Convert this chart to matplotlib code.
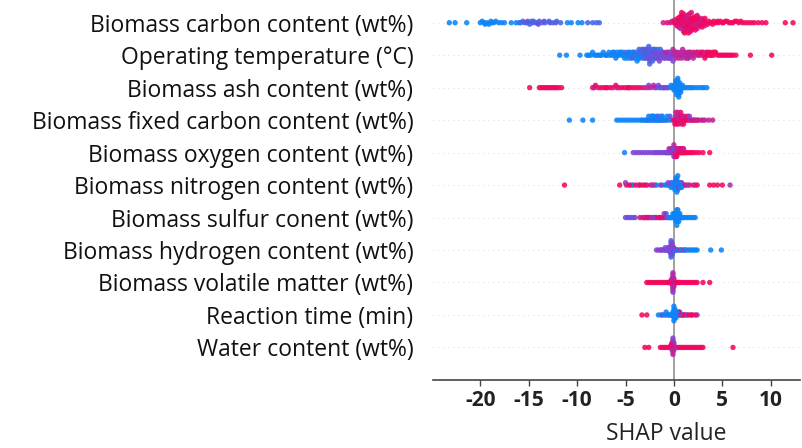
import numpy as np
import matplotlib.pyplot as plt
from matplotlib.colors import LinearSegmentedColormap

# features, top to bottom (ranked by mean |SHAP|)
features = [
    "Biomass carbon content (wt%)",
    "Operating temperature (\u00b0C)",
    "Biomass ash content (wt%)",
    "Biomass fixed carbon content (wt%)",
    "Biomass oxygen content (wt%)",
    "Biomass nitrogen content (wt%)",
    "Biomass sulfur conent (wt%)",
    "Biomass hydrogen content (wt%)",
    "Biomass volatile matter (wt%)",
    "Reaction time (min)",
    "Water content (wt%)",
]

# shap values grouped by (normalised) feature value level
carbon_levels = [0.05, 0.25, 0.4, 0.75, 0.85, 0.95]
carbon_shap = [
    [-23.2, -22.6, -21.4, -20.0, -19.8, -19.6, -19.5, -19.3, -19.1, -18.9, -18.8, -18.6, -18.4,
     -18.1, -17.8, -17.5, -16.8, -16.3, -16.0, -11.0, -10.6, -9.9, -9.5],
    [-15.8, -15.6, -15.4, -15.2, -14.9, -14.7, -14.5, -14.3, -14.1, -13.9, -13.6, -13.3, -12.9,
     -12.5, -12.1, -11.7, -8.9, -8.4, -8.0, -7.7],
    [-15.1, -14.6, -14.0, -13.4, -12.8, -12.2],
    [-1.1, -0.4, 0.1, 0.3, 0.5, 0.6, 0.7, 0.8, 0.9, 1.0, 1.0, 1.1, 1.2, 1.3, 1.4, 1.5, 1.6, 1.7,
     1.8, 1.9, 2.0, 2.2, 2.4, 2.6],
    [1.0, 1.1, 1.2, 1.4, 1.5, 1.6, 1.8, 1.9, 2.0, 2.2, 2.3, 2.4, 2.6, 2.7, 2.8, 3.0, 3.1, 3.2],
    [-0.7, -0.2, 0.0, 0.2, 0.3, 0.4, 0.4, 0.5, 0.5, 0.6, 0.6, 0.7, 0.7, 0.8, 0.8, 0.9, 0.9, 1.0,
     1.0, 1.1, 1.1, 1.2, 1.2, 1.3, 1.3, 1.4, 1.4, 1.5, 1.5, 1.6, 1.6, 1.7, 1.7, 1.8, 1.8, 1.9,
     2.0, 2.0, 2.1, 2.1, 2.2, 2.3, 2.3, 2.4, 2.5, 2.5, 2.7, 2.8, 2.9, 3.0, 3.1, 3.2, 3.3, 3.5,
     3.6, 3.8, 4.0, 4.1, 4.3, 4.5, 4.6, 4.8, 5.0, 5.1, 5.3, 5.5, 5.7, 5.9, 6.1, 6.3, 6.5, 6.7,
     6.9, 7.1, 7.4, 7.7, 8.0, 8.3, 8.7, 9.1, 9.5, 11.5, 12.3],
]

temp_levels = [0.05, 0.25, 0.45, 0.7, 0.95]
temp_shap = [
    [-11.8, -11.1, -9.7, -9.0, -8.8, -8.6, -8.4, -8.2, -8.0, -7.8, -7.6, -7.5, -7.3, -7.1, -7.0,
     -6.8, -6.7, -6.5, -6.4, -6.3, -6.1, -6.0, -5.9, -5.8, -5.6, -5.5, -5.4, -5.3, -5.2, -5.1,
     -5.0, -4.9, -4.8, -4.7, -4.6, -4.5, -4.4, -4.3, -4.2, -4.1, -4.0, -3.9, -3.8, -3.7, -3.6,
     -3.5],
    [-6.2, -5.7, -5.0, -4.6, -4.3, -4.0, -3.8, -3.6, -3.4, -3.3, -3.2, -3.1, -3.0, -2.9, -2.8,
     -2.7, -2.6, -2.5, -2.4, -2.3, -2.2, -2.1, -2.0, -1.9, -1.8, -1.7, -1.6, -1.5, -1.4, -3.4,
     -3.2, -3.0, -2.8, -2.6, -2.4, -2.2, -2.0],
    [-3.3, -3.1, -2.9, -2.7, -2.5, -2.3, -2.1, -1.9, -1.7, -1.5, -1.3, -1.2, -1.1, -1.0, -0.9,
     -0.8, -0.7, -0.6, -0.5, -0.4, -0.3, -0.2, -0.1, -2.6, -2.2, -1.8, -1.4, -1.0, -0.6],
    [-1.2, -0.8, -0.5, -0.3, -0.1, 0.0, 0.1, 0.2, 0.3, 0.4, 0.5, 0.6, 0.7, 0.8, 0.9, 1.0, 1.1,
     1.2, 1.3, 1.4, 1.5, 1.6, 1.7, 1.8, 1.9, 2.0, 2.2, 2.4, 2.6, 2.8, 3.0, 0.2, 0.5, 0.8, 1.1,
     1.4],
    [1.6, 2.0, 2.3, 2.5, 2.7, 2.9, 3.1, 3.2, 3.3, 3.4, 3.5, 3.6, 3.7, 3.8, 3.9, 4.0, 4.1, 4.2,
     4.3, 4.5, 4.7, 4.9, 5.1, 5.3, 5.5, 5.7, 5.9, 6.1, 6.4, 7.9, 10.1],
]

ash_levels = [0.95, 0.75, 0.45, 0.05]
ash_shap = [
    [-14.9, -13.9, -13.7, -13.5, -13.3, -13.1, -12.9, -12.7, -12.5, -12.3, -12.1, -11.9, -11.6,
     -8.4, -8.1, -7.8, -7.5, -7.2, -6.9, -6.6, -6.3, -6.0, -5.7, -5.4, -5.1, -4.8, -4.5, -4.2,
     -3.9, -3.6],
    [-8.2, -7.0, -5.9, -4.7, -3.3, -3.0, -2.7, -2.4, -2.1, -1.8],
    [-2.6, -2.0, -1.6, -1.3, -1.0, -0.8],
    [-1.5, -1.1, -0.7, -0.5, -0.3, -0.2, -0.1, 0.0, 0.0, 0.1, 0.1, 0.2, 0.2, 0.2, 0.3, 0.3, 0.3,
     0.3, 0.4, 0.4, 0.4, 0.4, 0.4, 0.5, 0.5, 0.5, 0.5, 0.6, 0.6, 0.6, 0.7, 0.7, 0.8, 0.9, 1.0,
     1.2, 1.4, 1.6, 1.8, 2.0, 2.3, 2.6, 2.9, 3.1, 3.4],
]

fixed_levels = [0.05, 0.3, 0.95, 0.75, 0.55]
fixed_shap = [
    [-10.8, -9.4, -8.4, -5.9, -5.6, -5.3, -5.0, -4.7, -4.4, -4.1, -3.8, -3.5, -3.3, -3.1, -2.9,
     -2.7, -2.6, -2.5, -2.4, -2.3, -2.2, -2.1, -2.0, -1.9, -1.8, -1.7, -1.6, -1.5, -1.4, -1.3,
     -1.2, -1.1, -0.9, -0.7, -0.5],
    [-2.8, -2.2, -1.6, -1.2, -0.8, -0.4, -0.2],
    [0.0, 0.1, 0.2, 0.3, 0.4, 0.5, 0.6, 0.6, 0.7, 0.8, 0.9, 1.0, 1.1, 1.2, 1.4, 1.7, 2.0, 2.4],
    [0.1, 0.2, 0.3, 0.4, 0.5, 0.7, 0.9, 1.1, 1.3, 1.5, 1.8, 2.1, 2.5, 2.8, 3.2, 3.6, 4.0],
    [0.3, 0.8, 1.6, 2.2, 3.0],
]

oxygen_levels = [0.05, 0.45, 0.75, 0.95]
oxygen_shap = [
    [-5.1],
    [-4.2, -3.9, -3.6, -3.3, -3.0, -2.7, -2.4, -2.1, -1.9, -1.7, -1.5, -1.3, -1.1, -0.9, -0.7,
     -0.6, -0.5, -0.4, -0.3, -0.2, -0.1, 0.0],
    [-0.8, -0.5, -0.3, -0.2, -0.1, 0.0, 0.0, 0.1, 0.1, 0.2, 0.2, 0.3, 0.3, 0.4, 0.5, 0.6, 0.7,
     0.8, 0.9, 1.0],
    [0.0, 0.1, 0.2, 0.3, 0.4, 0.5, 0.6, 0.7, 0.8, 0.9, 1.0, 1.1, 1.2, 1.4, 1.6, 1.8, 2.0, 2.3,
     2.6, 3.0, 3.7],
]

nitrogen_levels = [0.95, 0.6, 0.05, 0.45]
nitrogen_shap = [
    [-11.3, -5.6, -4.9, -4.6, -4.2, -3.9, -3.5, -3.2, -2.8, -2.4, -2.0, 1.2, 1.6, 2.0, 2.4, 3.7,
     4.1, 4.5, 5.0],
    [-5.0, -3.6, -2.2, -1.4, 0.8, 1.4, 2.2, 5.8],
    [-4.4, -3.0, -1.8, -1.2, -0.9, -0.7, -0.5, -0.4, -0.3, -0.2, -0.1, 0.0, 0.0, 0.1, 0.1, 0.2,
     0.2, 0.2, 0.3, 0.3, 0.3, 0.3, 0.4, 0.4, 0.4, 0.5, 0.5, 0.6, 0.7, 0.8, 1.0],
    [-0.6, -0.3, 0.0, 0.2, 0.3, 0.5, 0.7, 0.9],
]

sulfur_levels = [0.4, 0.9, 0.6, 0.05]
sulfur_shap = [
    [-5.0, -4.8, -4.6, -4.4, -4.2, -4.0, -2.2, -1.6],
    [-3.5, -3.2, -3.0, -2.8, -2.6, -2.4, -2.0, -1.8, -1.5, -1.3, -1.1],
    [-3.1, -2.7, -2.3, -1.9, -1.4, -1.0, -0.8],
    [-1.0, -0.8, -0.6, -0.5, -0.4, -0.3, -0.2, -0.1, -0.1, 0.0, 0.0, 0.1, 0.1, 0.2, 0.2, 0.2,
     0.3, 0.3, 0.3, 0.3, 0.3, 0.4, 0.4, 0.4, 0.4, 0.5, 0.5, 0.5, 0.6, 0.6, 0.7, 0.8, 0.9, 1.0,
     1.2, 1.4, 1.6, 1.8, 2.0, 2.2],
]

hydrogen_levels = [0.5, 0.3, 0.05, 0.75]
hydrogen_shap = [
    [-1.8, -1.6, -1.4, -1.2, -1.0, -0.9, -0.8, -0.7, -0.6, -0.5, -0.4, -0.4, -0.3, -0.3, -0.3,
     -0.3, -0.2, -0.2, -0.2, -0.1, -0.1, 0.0],
    [-1.3, -0.9, -0.6, -0.5, -0.4, -0.3, -0.3, -0.3, -0.2, -0.2, -0.1, 0.0, 0.1],
    [-0.3, -0.2, 0.2, 0.4, 0.6, 0.8, 1.0, 1.2, 1.4, 1.6, 1.8, 2.0, 2.2, 2.4, 3.8, 4.9],
    [0.3, 0.7, 1.1],
]

volatile_levels = [0.95, 0.7, 0.5]
volatile_shap = [
    [-2.8, -2.6, -2.4, -2.2, -2.0, -1.8, -1.6, -1.4, -1.2, -1.0, -0.8, -0.6, -0.5, -0.4, -0.3,
     -0.2, 0.1, 0.2, 0.3, 0.4, 0.5, 0.6, 0.8, 1.0, 1.2, 1.4, 1.6, 1.8, 2.0, 2.2, 2.4, 3.0, 3.7],
    [-0.3, -0.2, -0.2, -0.1, -0.1, -0.1, -0.1, -0.1, -0.1, 0.0, 0.0, 0.0, -0.2, -0.1, 0.0],
    [-0.1, -0.1, -0.1, 0.0, -0.1],
]

time_levels = [0.95, 0.5, 0.05]
time_shap = [
    [-3.3, -2.8, 0.3, 0.5, 0.7, 0.9, 1.1, 1.3, 1.6, 1.9, 2.2],
    [-1.2, -0.8, 0.2, 0.6, 1.0, 1.4, 1.8, 2.4],
    [-1.6, -1.3, -1.0, -0.8, -0.6, -0.5, -0.4, -0.3, -0.2, -0.1, -0.1, 0.0, 0.0, 0.0, 0.0, 0.0,
     0.0, 0.1, 0.1, 0.1, 0.1, 0.2, 0.2, 0.3, 0.4, 0.5, 0.6, 0.8],
]

water_levels = [0.95, 0.7, 0.45]
water_shap = [
    [-3.0, -2.6, -1.4, -1.2, -1.0, -0.8, -0.6, -0.4, -0.3, 0.2, 0.4, 0.6, 0.8, 1.0, 1.2, 1.4,
     1.6, 1.8, 2.0, 2.2, 2.4, 2.6, 2.8, 3.0, 6.1],
    [-0.3, -0.2, -0.2, -0.1, -0.1, -0.1, -0.1, -0.1, 0.0, 0.0, 0.0, -0.2, 0.1],
    [-0.1, -0.1, 0.0, -0.2, -0.1],
]

rows = [
    (carbon_shap, carbon_levels),
    (temp_shap, temp_levels),
    (ash_shap, ash_levels),
    (fixed_shap, fixed_levels),
    (oxygen_shap, oxygen_levels),
    (nitrogen_shap, nitrogen_levels),
    (sulfur_shap, sulfur_levels),
    (hydrogen_shap, hydrogen_levels),
    (volatile_shap, volatile_levels),
    (time_shap, time_levels),
    (water_shap, water_levels),
]

xticks = [-20, -15, -10, -5, 0, 5, 10]

cmap = LinearSegmentedColormap.from_list("red_blue", ["#008bfb", "#8b3fd4", "#ff0052"])


def swarm_offsets(vals, nbins=100, row_height=0.4):
    # bin the values and stack points alternately above/below the row line
    n = len(vals)
    quant = np.round(nbins * (vals - vals.min()) / (vals.max() - vals.min() + 1e-8))
    tie = (np.arange(n) * 0.618034) % 1.0
    inds = np.lexsort((tie, quant))
    ys = np.zeros(n)
    layer = 0
    last_bin = -1
    for i in inds:
        if quant[i] != last_bin:
            layer = 0
        ys[i] = np.ceil(layer / 2) * ((layer % 2) * 2 - 1)
        layer += 1
        last_bin = quant[i]
    ys *= 0.9 * (row_height / np.max(ys + 1))
    return ys


fig = plt.figure(figsize=(8.03, 4.48), dpi=100)
ax = fig.add_axes([0.539, 0.152, 0.457, 0.848])

n_feat = len(features)
for k, (groups, levels) in enumerate(rows):
    ypos = n_feat - 1 - k
    vals = np.concatenate([np.array(g, dtype=float) for g in groups])
    feat = np.concatenate([np.full(len(g), lv) for g, lv in zip(groups, levels)])
    ys = swarm_offsets(vals)
    ax.axhline(ypos, color="#cccccc", lw=0.6, dashes=(1, 5), zorder=-1)
    order = np.argsort((np.arange(len(vals)) * 0.618034) % 1.0)
    ax.scatter(vals[order], ypos + ys[order], c=feat[order], cmap=cmap, vmin=0, vmax=1,
               s=15, alpha=0.88, linewidths=0, zorder=3)

ax.axvline(0, color="#999999", lw=1.3, zorder=-1)

ax.set_xlim(-24.9, 13.0)
ax.set_ylim(-1, 10.7)
ax.set_yticks(range(n_feat))
ax.set_yticklabels(features[::-1], fontsize=16.5, family="Open Sans", color="#111111")
ax.tick_params(axis="y", length=0, pad=14)

ax.set_xticks(xticks)
ax.set_xticklabels([str(t) for t in xticks], fontsize=15, fontweight="bold",
                   family="Open Sans", color="#222222")
ax.tick_params(axis="x", length=4, width=1, color="#444444", pad=3)

for side in ["top", "right", "left"]:
    ax.spines[side].set_visible(False)
ax.spines["bottom"].set_color("#444444")
ax.spines["bottom"].set_linewidth(1.2)

ax.set_xlabel("SHAP value", fontsize=16.5, family="Open Sans", color="#222222")
ax.xaxis.set_label_coords(0.635, -0.112)

fig.savefig("out.png", dpi=100)
